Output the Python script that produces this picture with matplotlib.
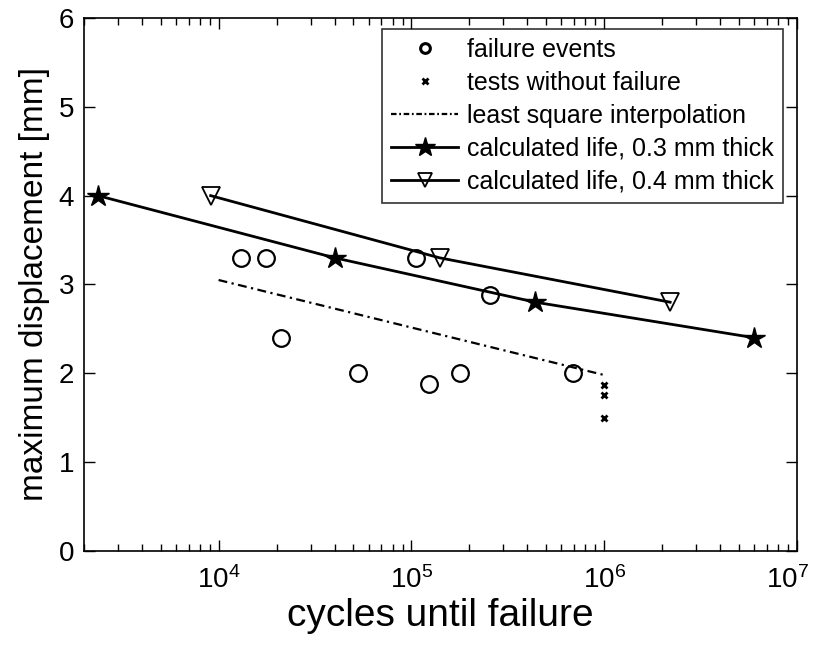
import matplotlib
matplotlib.use("Agg")
import matplotlib.pyplot as plt
from matplotlib.lines import Line2D
from matplotlib.transforms import ScaledTranslation

plt.rcParams['font.family'] = ['Liberation Sans', 'DejaVu Sans']
plt.rcParams['mathtext.fontset'] = 'custom'
plt.rcParams['mathtext.rm'] = 'Liberation Sans'
plt.rcParams['mathtext.it'] = 'Liberation Sans:italic'
plt.rcParams['mathtext.bf'] = 'Liberation Sans:bold'

# failure events
fail_cycles = [13000, 17600, 21000, 52700, 106000, 124000, 178000, 255000, 690000]
fail_disp = [3.3, 3.3, 2.4, 2.0, 3.3, 1.88, 2.0, 2.88, 2.0]
# tests without failure
runout_cycles = [1.0e6, 1.0e6, 1.0e6]
runout_disp = [1.87, 1.75, 1.5]
# least square interpolation
ls_cycles = [1.0e4, 1.0e6]
ls_disp = [3.05, 1.98]
# calculated life 0.3 mm
c03_cycles = [2370, 40000, 440000, 6.0e6]
c03_disp = [4.0, 3.3, 2.8, 2.4]
# calculated life 0.4 mm
c04_cycles = [9100, 140000, 2.2e6]
c04_disp = [4.0, 3.3, 2.8]

labels = ['failure events', 'tests without failure', 'least square interpolation',
          'calculated life, 0.3 mm thick', 'calculated life, 0.4 mm thick']
xtick_vals = [1e4, 1e5, 1e6, 1e7]
xtick_labels = [r'$10^{4}$', r'$10^{5}$', r'$10^{6}$', r'$10^{7}$']
ytick_vals = [0, 1, 2, 3, 4, 5, 6]

fig = plt.figure(figsize=(8.14, 6.45), dpi=100)
ax = fig.add_axes([0.103, 0.146, 0.876, 0.826])

ax.plot(fail_cycles, fail_disp, 'o', mfc='none', mec='k', ms=12, mew=1.6)
ax.plot(runout_cycles, runout_disp, 'x', color='k', ms=5, mew=2)
ax.plot(ls_cycles, ls_disp, color='k', lw=1.6, dashes=(4, 2, 1, 2))
ax.plot(c03_cycles, c03_disp, '-*', color='k', lw=2, ms=16, mew=1)
ax.plot(c04_cycles, c04_disp, '-v', color='k', lw=2, ms=13, mfc='none', mew=1.3)

ax.set_xscale('log')
ax.set_xlim(2000, 1e7)
ax.set_ylim(0, 6)
ax.set_xticks(xtick_vals)
ax.set_xticklabels(xtick_labels)
ax.set_yticks(ytick_vals)
ax.tick_params(which='both', direction='in', top=True, right=True, labelsize=20)
ax.tick_params(which='major', length=8, width=1)
ax.tick_params(which='minor', length=5, width=1)
ax.tick_params(axis='x', pad=11)
ax.tick_params(axis='y', pad=7)
for s in ax.spines.values():
    s.set_linewidth(1.2)

# nudge the last x tick label so it stays inside the figure
last = ax.get_xticklabels()[-1]
last.set_transform(last.get_transform() + ScaledTranslation(-9 / 100, 0, fig.dpi_scale_trans))

ax.set_xlabel('cycles until failure', fontsize=28, labelpad=3)
ax.set_ylabel('maximum displacement [mm]', fontsize=24, labelpad=6)

handles = [
    Line2D([], [], ls='none', marker='o', mfc='none', mec='k', ms=7, mew=2.2),
    Line2D([], [], ls='none', marker='x', color='k', ms=5, mew=2),
    Line2D([], [], color='k', lw=1.6, dashes=(2.5, 1.2, 0.8, 1.2)),
    Line2D([], [], color='k', lw=2, marker='*', ms=15),
    Line2D([], [], color='k', lw=2, marker='v', ms=10, mfc='none', mew=1.3),
]
leg = ax.legend(handles, labels, loc='upper right', bbox_to_anchor=(0.980, 0.979),
                borderaxespad=0, fontsize=18, frameon=True, fancybox=False,
                edgecolor='k', handlelength=2.7, handletextpad=0.35,
                borderpad=0.35, labelspacing=0.36)
leg.get_frame().set_linewidth(1.2)

fig.savefig('out.png', dpi=100)
